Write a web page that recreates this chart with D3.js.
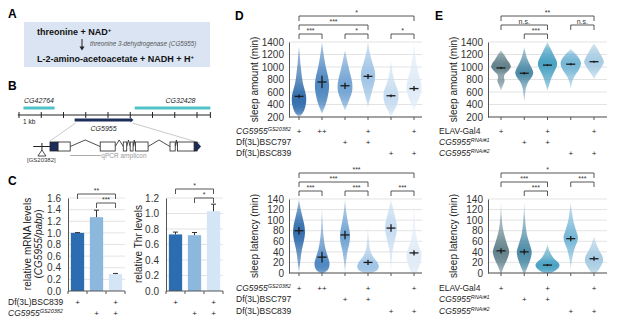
<!DOCTYPE html>
<html>
<head>
<meta charset="utf-8">
<script src="https://cdn.jsdelivr.net/npm/d3@7"></script>
<style>
  body { margin: 0; background: #fff; }
  svg { font-family: "Liberation Sans", Arial, sans-serif; }
</style>
</head>
<body>
<svg id="fig" width="617" height="323"></svg>
<script>
/**
 * DATA
 * */
// panel B - genomic region (kb) and CG5955 exons (bp from start)
const kbTicks = [0, 1, 2, 3, 4, 5, 6, 7, 8];
const geneNames = ["CG42764", "CG5955", "CG32428"];
const geneStart = [0.2, 2.5, 5.2];
const geneEnd = [1.6, 5.1, 8.6];
const exonStart = [0, 140, 870, 1270, 1390, 1480, 2080, 2210, 2500];
const exonEnd = [140, 350, 1130, 1330, 1440, 1700, 2170, 2500, 2600];
const exonCoding = [false, true, true, true, true, true, true, true, false];

// panel C - bars
const cRowLabels = ["Df(3L)BSC839", "CG5955"];
const cPlus = [["+", "", "+"], ["", "+", "+"]];
const mrnaMean = [1.0, 1.27, 0.29];
const mrnaErr = [0.005, 0.12, 0.012];
const mrnaTicks = [0, 0.2, 0.4, 0.6, 0.8, 1.0, 1.2, 1.4, 1.6];
const mrnaSig = [[0, 2, "**", 2], [1, 2, "***", 1]];
const thrMean = [0.73, 0.72, 1.03];
const thrErr = [0.03, 0.035, 0.09];
const thrTicks = [0, 0.2, 0.4, 0.6, 0.8, 1.0, 1.2];
const thrSig = [[0, 2, "*", 2], [1, 2, "*", 1]];
const barColors = ["#2c6cb0", "#8cb8de", "#d4e5f5"];

// panel D - violins (value, relative density)
const dRowLabels = ["CG5955", "Df(3L)BSC797", "Df(3L)BSC839"];
const dPlus = [["+", "++", "", "+", "", "+"], ["", "", "+", "+", "", ""], ["", "", "", "", "+", "+"]];
const dColors = ["#3670ae", "#5189c2", "#74a5d4", "#a1c5e6", "#c8ddf1", "#dfebf7"];
const amountTicks = [200, 400, 600, 800, 1000, 1200, 1400];
const latencyTicks = [0, 20, 40, 60, 80, 100, 120, 140];

const dAmountMean = [530, 760, 700, 850, 540, 655];
const dAmountErr = [30, 100, 50, 40, 22, 40];
const dAmountDens = [
  [[200,0],[260,0.3],[350,0.5],[450,0.6],[550,0.58],[650,0.45],[750,0.32],[850,0.24],[950,0.18],[1050,0.12],[1150,0.08],[1250,0.04],[1330,0]],
  [[250,0],[350,0.2],[450,0.38],[550,0.5],[650,0.58],[750,0.58],[850,0.5],[950,0.38],[1050,0.27],[1150,0.18],[1250,0.1],[1330,0.05],[1400,0]],
  [[300,0],[400,0.2],[500,0.4],[600,0.58],[700,0.62],[800,0.55],[900,0.42],[1000,0.3],[1100,0.18],[1200,0.08],[1270,0]],
  [[350,0],[450,0.12],[550,0.25],[650,0.38],[750,0.52],[850,0.6],[950,0.55],[1050,0.4],[1150,0.25],[1250,0.13],[1350,0.05],[1400,0]],
  [[200,0],[300,0.25],[400,0.5],[500,0.62],[600,0.6],[700,0.42],[800,0.25],[900,0.14],[1000,0.07],[1100,0]],
  [[300,0],[400,0.2],[500,0.42],[600,0.58],[700,0.62],[800,0.52],[900,0.38],[1000,0.26],[1100,0.17],[1200,0.1],[1300,0.05],[1400,0]]
];
const dAmountSig = [[0, 1, "***", 1], [2, 3, "*", 1], [4, 5, "*", 1], [0, 3, "***", 2], [0, 5, "*", 3]];

const dLatMean = [80, 30, 72, 20, 85, 38];
const dLatErr = [7, 10, 8, 5, 7, 5];
const dLatDens = [
  [[0,0],[15,0.08],[30,0.15],[45,0.25],[60,0.4],[75,0.5],[90,0.45],[105,0.3],[120,0.15],[140,0]],
  [[0,0.15],[5,0.45],[12,0.6],[20,0.62],[30,0.5],[45,0.3],[60,0.18],[75,0.1],[95,0.05],[125,0]],
  [[0,0],[20,0.08],[40,0.2],[55,0.35],[68,0.42],[80,0.38],[95,0.25],[110,0.14],[125,0.06],[140,0]],
  [[0,0.3],[5,0.75],[12,0.9],[20,0.8],[30,0.45],[40,0.22],[55,0.1],[70,0.04],[90,0]],
  [[0,0],[20,0.05],[40,0.12],[60,0.3],[75,0.45],[85,0.5],[95,0.45],[110,0.3],[125,0.14],[140,0]],
  [[0,0.2],[10,0.4],[25,0.58],[35,0.62],[45,0.5],[60,0.28],[75,0.15],[95,0.08],[115,0.04],[140,0]]
];
const dLatSig = [[0, 1, "***", 1], [2, 3, "***", 1], [4, 5, "***", 1], [0, 3, "***", 2], [0, 5, "***", 3]];

// panel E - violins
const eRowLabels = ["ELAV-Gal4", "CG5955", "CG5955"];
const eRowSup = ["", "RNAi#1", "RNAi#2"];
const ePlus = [["+", "", "+", "", "+"], ["", "+", "+", "", ""], ["", "", "", "+", "+"]];
const eColors = ["#62818a", "#4e8ba6", "#4ba2c3", "#77b7d6", "#a7cce3"];

const eAmountMean = [985, 900, 1030, 1045, 1085];
const eAmountErr = [15, 20, 15, 15, 15];
const eAmountDens = [
  [[620,0],[700,0.15],[780,0.3],[830,0.25],[880,0.3],[950,0.65],[1000,0.82],[1050,0.75],[1120,0.5],[1200,0.25],[1270,0]],
  [[450,0],[550,0.06],[650,0.12],[750,0.3],[850,0.65],[900,0.75],[950,0.7],[1050,0.45],[1150,0.22],[1250,0.08],[1320,0]],
  [[620,0],[700,0.12],[800,0.28],[900,0.5],[1000,0.75],[1050,0.8],[1100,0.75],[1200,0.5],[1300,0.25],[1400,0]],
  [[640,0],[750,0.1],[850,0.3],[950,0.65],[1050,0.85],[1120,0.75],[1200,0.45],[1290,0]],
  [[800,0],[880,0.2],[950,0.45],[1020,0.7],[1080,0.82],[1150,0.7],[1250,0.4],[1320,0.2],[1380,0]]
];
const eAmountSig = [[1, 2, "***", 1], [0, 2, "n.s.", 2], [3, 4, "n.s.", 2], [0, 4, "**", 3]];

const eLatMean = [42, 40, 15, 65, 27];
const eLatErr = [5, 5, 2, 5, 4];
const eLatDens = [
  [[0,0.05],[10,0.2],[25,0.5],[40,0.68],[55,0.5],[70,0.3],[85,0.15],[105,0.06],[135,0]],
  [[0,0.05],[10,0.25],[25,0.5],[40,0.62],[55,0.45],[70,0.25],[90,0.12],[110,0.05],[135,0]],
  [[0,0.3],[7,0.8],[15,1.0],[22,0.8],[30,0.45],[40,0.2],[55,0]],
  [[5,0],[25,0.1],[45,0.3],[60,0.55],[68,0.6],[80,0.45],[95,0.25],[115,0.1],[135,0]],
  [[0,0.2],[10,0.5],[22,0.75],[32,0.7],[42,0.45],[55,0.2],[70,0]]
];
const eLatSig = [[1, 2, "***", 1], [0, 2, "***", 2], [3, 4, "***", 2], [0, 4, "*", 3]];

/**
 * HELPERS
 * */
const svg = d3.select("#fig");
const defs = svg.append("defs");
let gradId = 0;

function panelLetter(t, x, y) {
  svg.append("text").attr("x", x).attr("y", y).attr("font-size", 12).attr("font-weight", "bold").text(t);
}

function bracket(g, xa, xb, yl, leg, label) {
  g.append("path")
    .attr("d", `M${xa},${yl + leg}V${yl}H${xb}V${yl + leg}`)
    .attr("fill", "none").attr("stroke", "#444").attr("stroke-width", 0.9);
  g.append("text").attr("x", (xa + xb) / 2).attr("y", yl - 1.5)
    .attr("text-anchor", "middle").attr("font-size", 7).attr("fill", "#333").text(label);
}

function italicSup(sel, main, sup) {
  sel.append("tspan").attr("font-style", "italic").text(main);
  if (sup) sel.append("tspan").attr("font-style", "italic").attr("font-size", 5.5).attr("dy", -3).text(sup);
}

function rowLabels(x, ys, labels, sups, italics, plus, xs) {
  labels.forEach((lab, i) => {
    const t = svg.append("text").attr("x", x).attr("y", ys[i]).attr("font-size", 8.5).attr("fill", "#222");
    if (italics[i]) italicSup(t, lab, sups[i]); else t.text(lab);
    svg.selectAll(null).data(plus[i]).join("text")
      .attr("x", (d, j) => xs(j)).attr("y", ys[i])
      .attr("text-anchor", "middle").attr("font-size", 8).attr("fill", "#222")
      .text(d => d);
  });
}

function violinChart(o) {
  const y = d3.scaleLinear().domain(o.domain).range([o.bottom, o.top]);
  const x = d3.scalePoint().domain(d3.range(o.means.length)).range(o.xRange);
  const w = d3.scaleLinear().domain([0, 1]).range([0, 12]);
  const g = svg.append("g");

  g.selectAll("line.grid").data(o.ticks).join("line")
    .attr("x1", o.left).attr("x2", o.right)
    .attr("y1", d => y(d)).attr("y2", d => y(d))
    .attr("stroke", "#dcdcdc").attr("stroke-width", 0.8);

  const area = d3.area().curve(d3.curveCatmullRom)
    .y(d => y(d[0]));

  o.dens.forEach((dens, i) => {
    const id = "vg" + (gradId++);
    const v0 = dens[0][0], v1 = dens[dens.length - 1][0];
    const dmax = d3.max(dens, d => d[1]);
    const grad = defs.append("linearGradient").attr("id", id)
      .attr("gradientUnits", "userSpaceOnUse")
      .attr("x1", 0).attr("x2", 0).attr("y1", y(v0)).attr("y2", y(v1));
    grad.selectAll("stop").data(dens).join("stop")
      .attr("offset", d => (d[0] - v0) / (v1 - v0))
      .attr("stop-color", o.colors[i])
      .attr("stop-opacity", d => 0.3 + 0.7 * Math.sqrt(d[1] / dmax));
    const cx = x(i);
    g.append("path")
      .attr("d", area.x0(d => cx - w(d[1])).x1(d => cx + w(d[1]))(dens))
      .attr("fill", `url(#${id})`);
  });

  // mean +/- sem crosses
  g.selectAll("line.mh").data(o.means).join("line")
    .attr("x1", (d, i) => x(i) - 4.5).attr("x2", (d, i) => x(i) + 4.5)
    .attr("y1", d => y(d)).attr("y2", d => y(d))
    .attr("stroke", "#1a1a1a").attr("stroke-width", 1.3);
  g.selectAll("line.mv").data(o.means).join("line")
    .attr("x1", (d, i) => x(i)).attr("x2", (d, i) => x(i))
    .attr("y1", (d, i) => y(d - o.errs[i])).attr("y2", (d, i) => y(d + o.errs[i]))
    .attr("stroke", "#1a1a1a").attr("stroke-width", 1.3);

  // axes
  const ya = g.append("g").attr("transform", `translate(${o.left},0)`)
    .call(d3.axisLeft(y).tickValues(o.ticks).tickFormat(d3.format("d")).tickSize(0).tickPadding(5).tickSizeOuter(0));
  ya.selectAll("text").attr("font-size", 10).attr("fill", "#333").attr("font-family", null);
  ya.select(".domain").attr("stroke", "#555");
  g.append("line").attr("x1", o.left).attr("x2", o.right).attr("y1", o.bottom).attr("y2", o.bottom).attr("stroke", "#555");
  g.selectAll("line.xt").data(o.means).join("line")
    .attr("x1", (d, i) => x(i)).attr("x2", (d, i) => x(i))
    .attr("y1", o.bottom).attr("y2", o.bottom + 3).attr("stroke", "#555");

  g.append("text")
    .attr("transform", `translate(${o.left - 31},${(o.top + o.bottom) / 2}) rotate(-90)`)
    .attr("text-anchor", "middle").attr("font-size", 10).attr("fill", "#222").text(o.title);

  o.sig.forEach(s => bracket(g, x(s[0]), x(s[1]), o.top - 8 - (s[3] - 1) * 9, 5, s[2]));
  return x;
}

function barChart(o) {
  const y = d3.scaleLinear().domain([0, d3.max(o.ticks)]).range([o.bottom, o.top]);
  const x = d3.scaleBand().domain(d3.range(o.means.length)).range([o.left, o.right]).paddingInner(0.3).paddingOuter(0.15);
  const g = svg.append("g");
  g.selectAll("line.grid").data(o.ticks.slice(1)).join("line")
    .attr("x1", o.left).attr("x2", o.right)
    .attr("y1", d => y(d)).attr("y2", d => y(d))
    .attr("stroke", "#dcdcdc").attr("stroke-width", 0.8);
  g.selectAll("rect").data(o.means).join("rect")
    .attr("x", (d, i) => x(i)).attr("width", x.bandwidth())
    .attr("y", d => y(d)).attr("height", d => o.bottom - y(d))
    .attr("fill", (d, i) => barColors[i]);
  g.selectAll("path.err").data(o.means).join("path")
    .attr("d", (d, i) => {
      const cx = x(i) + x.bandwidth() / 2, yt = y(d + o.errs[i]);
      return `M${cx},${y(d)}V${yt}M${cx - 2.5},${yt}H${cx + 2.5}`;
    })
    .attr("fill", "none").attr("stroke", "#333").attr("stroke-width", 1);
  const ya = g.append("g").attr("transform", `translate(${o.left},0)`)
    .call(d3.axisLeft(y).tickValues(o.ticks).tickFormat(d3.format(".1f")).tickSize(0).tickPadding(7).tickSizeOuter(0));
  ya.selectAll("text").attr("font-size", 10).attr("fill", "#333").attr("font-family", null);
  ya.select(".domain").attr("stroke", "#555");
  g.append("line").attr("x1", o.left).attr("x2", o.right).attr("y1", o.bottom).attr("y2", o.bottom).attr("stroke", "#555");
  g.selectAll("line.xt").data(d3.range(o.means.length + 1)).join("line")
    .attr("x1", d => o.left + d * x.step()).attr("x2", d => o.left + d * x.step())
    .attr("y1", o.bottom).attr("y2", o.bottom + 3).attr("stroke", "#555");
  o.sig.forEach(s => {
    const cx = i => x(i) + x.bandwidth() / 2;
    bracket(g, cx(s[0]), cx(s[1]), o.top + o.sigOffset - (s[3] - 1) * 9, 5, s[2]);
  });
  return i => x(i) + x.bandwidth() / 2;
}

/**
 * PANEL A
 * */
panelLetter("A", 8, 18);
svg.append("rect").attr("x", 24).attr("y", 22).attr("width", 186).attr("height", 45).attr("fill", "#dbe4f3");
const a1 = svg.append("text").attr("x", 37).attr("y", 35).attr("font-size", 9).attr("font-weight", "bold").attr("fill", "#111");
a1.append("tspan").text("threonine + NAD");
a1.append("tspan").attr("font-size", 6).attr("dy", -3).text("+");
svg.append("line").attr("x1", 82).attr("x2", 82).attr("y1", 39).attr("y2", 49).attr("stroke", "#222");
svg.append("path").attr("d", "M79.5,46.5L82,50.5L84.5,46.5Z").attr("fill", "#222");
svg.append("text").attr("x", 90).attr("y", 46).attr("font-size", 6.3).attr("font-style", "italic").attr("fill", "#555")
  .text("threonine 3-dehydrogenase (CG5955)");
const a2 = svg.append("text").attr("x", 37).attr("y", 62).attr("font-size", 9).attr("font-weight", "bold").attr("fill", "#111");
a2.append("tspan").text("L-2-amino-acetoacetate + NADH + H");
a2.append("tspan").attr("font-size", 6).attr("dy", -3).text("+");

/**
 * PANEL B
 * */
panelLetter("B", 8, 90);
const kb = d3.scaleLinear().domain([0, 8]).range([19, 197]);
const gB = svg.append("g");
gB.append("line").attr("x1", kb(-0.05)).attr("x2", kb(8.6)).attr("y1", 115).attr("y2", 115).attr("stroke", "#222");
gB.selectAll("line.kt").data(kbTicks.concat([8.6])).join("line")
  .attr("x1", d => kb(d)).attr("x2", d => kb(d))
  .attr("y1", 112).attr("y2", 118).attr("stroke", "#222");
gB.append("text").attr("x", 23).attr("y", 123.5).attr("font-size", 6.5).attr("fill", "#222").text("1 kb");
[0, 2].forEach(i => {
  gB.append("rect").attr("x", kb(geneStart[i])).attr("y", 106.5).attr("width", kb(geneEnd[i]) - kb(geneStart[i])).attr("height", 3)
    .attr("fill", "#4fc3c8");
  gB.append("text").attr("x", kb((geneStart[i] + geneEnd[i]) / 2) + (i === 2 ? 8 : 0)).attr("y", 103).attr("text-anchor", "middle")
    .attr("font-size", 7).attr("font-style", "italic").attr("fill", "#222").text(geneNames[i]);
});
gB.append("path")
  .attr("d", `M${kb(geneStart[1])},118.5H${kb(geneEnd[1]) - 2}V117.5L${kb(geneEnd[1]) + 1},120L${kb(geneEnd[1]) - 2},122.5V121.5H${kb(geneStart[1])}Z`)
  .attr("fill", "#1d2d5c");
gB.append("text").attr("x", kb((geneStart[1] + geneEnd[1]) / 2)).attr("y", 130.5).attr("text-anchor", "middle")
  .attr("font-size", 7).attr("font-style", "italic").attr("fill", "#222").text(geneNames[1]);

const bp = d3.scaleLinear().domain([0, 2600]).range([50, 200]);
gB.append("line").attr("x1", kb(geneStart[1]) + 1).attr("y1", 123).attr("x2", bp(0)).attr("y2", 141).attr("stroke", "#bbb").attr("stroke-width", 0.8);
gB.append("line").attr("x1", kb(geneEnd[1])).attr("y1", 123).attr("x2", bp(2600)).attr("y2", 143).attr("stroke", "#bbb").attr("stroke-width", 0.8);
gB.append("line").attr("x1", bp(-290)).attr("x2", bp(0)).attr("y1", 146.5).attr("y2", 146.5).attr("stroke", "#222");
gB.append("line").attr("x1", bp(-140)).attr("x2", bp(-140)).attr("y1", 143).attr("y2", 150).attr("stroke", "#222");
gB.append("path").attr("d", `M${bp(-140)},150L${bp(-140) + 4},156L${bp(-140) - 4},156Z`).attr("fill", "#fff").attr("stroke", "#222").attr("stroke-width", 0.8);
gB.append("text").attr("x", 27).attr("y", 162).attr("font-size", 6).attr("fill", "#333").text("[GS20382]");
// introns
gB.selectAll("path.intron").data(d3.range(exonStart.length - 1)).join("path")
  .attr("d", i => {
    const a = bp(exonEnd[i]), b = bp(exonStart[i + 1]);
    return b - a < 1 ? "" : `M${a},146.5L${(a + b) / 2},140L${b},146.5`;
  })
  .attr("fill", "none").attr("stroke", "#222").attr("stroke-width", 0.8);
gB.selectAll("rect.exon").data(exonStart).join("rect")
  .attr("x", d => bp(d)).attr("y", 142)
  .attr("width", (d, i) => bp(exonEnd[i]) - bp(d) - (i === exonStart.length - 1 ? 3 : 0)).attr("height", 9)
  .attr("fill", (d, i) => exonCoding[i] ? "#fff" : "#1d2d5c")
  .attr("stroke", "#222").attr("stroke-width", 0.8);
gB.append("path").attr("d", `M${bp(2600) - 3},142L${bp(2600) + 1},146.5L${bp(2600) - 3},151Z`).attr("fill", "#1d2d5c");
gB.append("line").attr("x1", bp(350)).attr("x2", bp(880)).attr("y1", 155.5).attr("y2", 155.5).attr("stroke", "#aaa");
gB.append("text").attr("x", bp(890)).attr("y", 158).attr("font-size", 6.5).attr("fill", "#999").text("qPCR amplicon");

/**
 * PANEL C
 * */
panelLetter("C", 8, 185);
const cx1 = barChart({ left: 68, right: 125, top: 198, bottom: 291, ticks: mrnaTicks, means: mrnaMean, errs: mrnaErr, sig: mrnaSig, sigOffset: 5 });
const cx2 = barChart({ left: 166, right: 223, top: 198, bottom: 291, ticks: thrTicks, means: thrMean, errs: thrErr, sig: thrSig, sigOffset: 0 });
svg.append("text").attr("transform", "translate(31,244) rotate(-90)").attr("text-anchor", "middle")
  .attr("font-size", 10).attr("fill", "#222").text("relative mRNA levels");
const ct = svg.append("text").attr("transform", "translate(42,244) rotate(-90)").attr("text-anchor", "middle")
  .attr("font-size", 10).attr("fill", "#222");
ct.append("tspan").text("(");
ct.append("tspan").attr("font-style", "italic").text("CG5955/pabp");
ct.append("tspan").text(")");
svg.append("text").attr("transform", "translate(142,244) rotate(-90)").attr("text-anchor", "middle")
  .attr("font-size", 10).attr("fill", "#222").text("relative Thr levels");
const cRowY = [305, 315.5];
rowLabels(8, cRowY, cRowLabels, ["", "GS20382"], [false, true], cPlus, cx1);
cPlus.forEach((row, i) => {
  svg.selectAll(null).data(row).join("text")
    .attr("x", (d, j) => cx2(j)).attr("y", cRowY[i])
    .attr("text-anchor", "middle").attr("font-size", 8).attr("fill", "#222").text(d => d);
});

/**
 * PANEL D
 * */
panelLetter("D", 235, 20);
const dx = violinChart({ left: 289, right: 422, top: 42, bottom: 117, domain: [200, 1400], ticks: amountTicks,
  xRange: [299, 414], dens: dAmountDens, means: dAmountMean, errs: dAmountErr, colors: dColors, sig: dAmountSig, title: "sleep amount (min)" });
violinChart({ left: 289, right: 422, top: 199, bottom: 273, domain: [0, 140], ticks: latencyTicks,
  xRange: [299, 414], dens: dLatDens, means: dLatMean, errs: dLatErr, colors: dColors, sig: dLatSig, title: "sleep latency (min)" });
rowLabels(236, [134, 145, 156], dRowLabels, ["GS20382", "", ""], [true, false, false], dPlus, dx);
rowLabels(236, [291, 302, 314], dRowLabels, ["GS20382", "", ""], [true, false, false], dPlus, dx);

/**
 * PANEL E
 * */
panelLetter("E", 435, 20);
const ex = violinChart({ left: 488, right: 607, top: 42, bottom: 117, domain: [200, 1400], ticks: amountTicks,
  xRange: [501, 594], dens: eAmountDens, means: eAmountMean, errs: eAmountErr, colors: eColors, sig: eAmountSig, title: "sleep amount (min)" });
violinChart({ left: 488, right: 607, top: 199, bottom: 273, domain: [0, 140], ticks: latencyTicks,
  xRange: [501, 594], dens: eLatDens, means: eLatMean, errs: eLatErr, colors: eColors, sig: eLatSig, title: "sleep latency (min)" });
rowLabels(439, [134, 145, 156], eRowLabels, eRowSup, [false, true, true], ePlus, ex);
rowLabels(439, [291, 302, 314], eRowLabels, eRowSup, [false, true, true], ePlus, ex);
</script>
</body>
</html>
